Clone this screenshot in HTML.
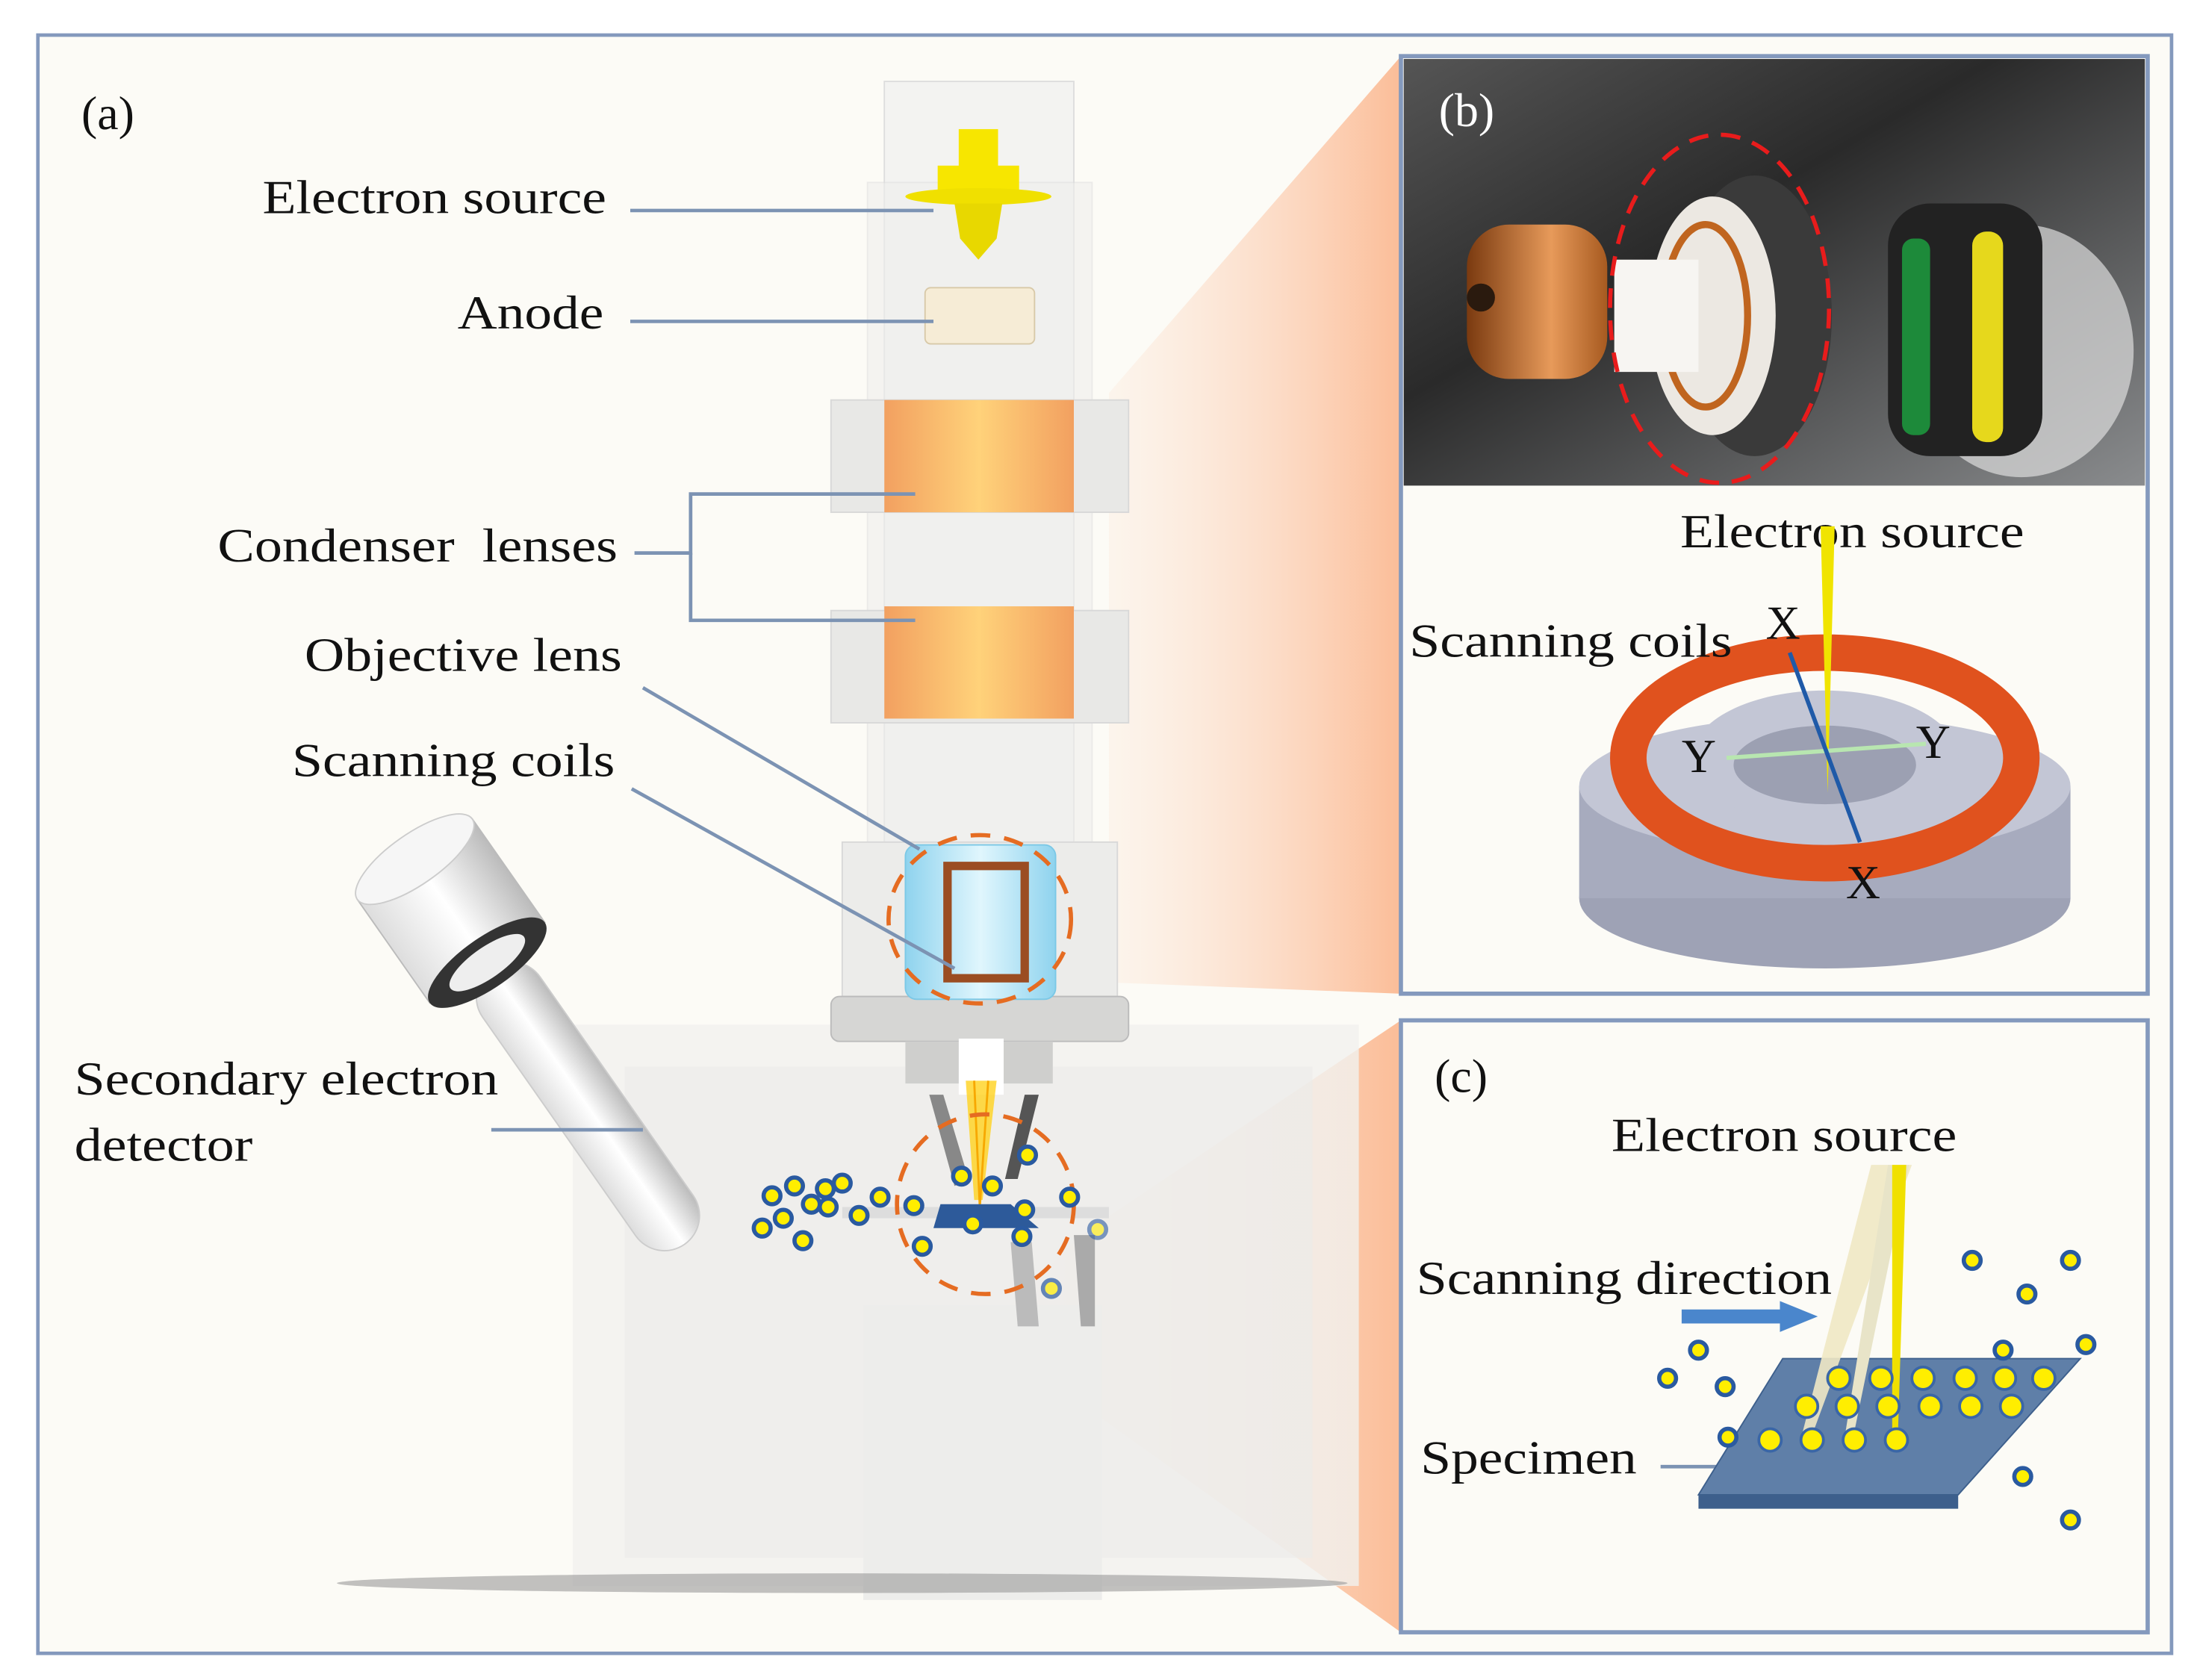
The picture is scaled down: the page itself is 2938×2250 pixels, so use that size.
<!DOCTYPE html>
<html><head><meta charset="utf-8"><style>
html,body{margin:0;padding:0;background:#fff}
svg{display:block}
text{font-family:"Liberation Serif",serif;fill:#111}
</style></head><body>
<svg width="2938" height="2250" viewBox="0 0 1563 1197" preserveAspectRatio="none" xmlns="http://www.w3.org/2000/svg">
<defs>
<linearGradient id="wedge" x1="0" x2="1" y1="0" y2="0">
<stop offset="0" stop-color="#fde6d6" stop-opacity="0.3"/><stop offset="1" stop-color="#fbbd98"/></linearGradient>
<linearGradient id="orange" x1="0" x2="1"><stop offset="0" stop-color="#f2a060"/><stop offset=".5" stop-color="#ffd27a"/><stop offset="1" stop-color="#f2a060"/></linearGradient>
<linearGradient id="photo" x1="0" x2="1" y1="0" y2="1"><stop offset="0" stop-color="#555"/><stop offset=".4" stop-color="#2a2a2a"/><stop offset="1" stop-color="#8a8c8e"/></linearGradient>
<linearGradient id="copper" x1="0" x2="1"><stop offset="0" stop-color="#7a3a10"/><stop offset=".6" stop-color="#e79a5a"/><stop offset="1" stop-color="#a75a20"/></linearGradient>
<linearGradient id="tube" x1="0" x2="1"><stop offset="0" stop-color="#ddd"/><stop offset=".5" stop-color="#fff"/><stop offset="1" stop-color="#bbb"/></linearGradient>
<linearGradient id="blue" x1="0" x2="1"><stop offset="0" stop-color="#8fd3ee"/><stop offset=".5" stop-color="#e0f6fd"/><stop offset="1" stop-color="#8fd3ee"/></linearGradient>
</defs>
<rect width="1563" height="1197" fill="#fff"/>
<rect x="27" y="25" width="1520" height="1153" fill="#fcfbf6" stroke="#8499bd" stroke-width="2.5"/>
<polygon points="790,280 998,40 998,708 790,700" fill="url(#wedge)"/>
<polygon points="770,880 998,727 998,1163 700,950" fill="url(#wedge)"/>
<rect x="408" y="730" width="560" height="400" fill="#f1f1ef" opacity=".8"/>
<rect x="445" y="760" width="490" height="350" fill="#ebebe9" opacity=".6"/>
<rect x="615" y="930" width="170" height="210" fill="#ededeb"/>
<ellipse cx="600" cy="1128" rx="360" ry="7" fill="#999" opacity=".6"/>
<rect x="630" y="58" width="135" height="560" fill="#f3f3f1" stroke="#ddd"/>
<rect x="618" y="130" width="160" height="480" fill="#efefed" opacity=".6" stroke="#e0e0e0"/>
<rect x="592" y="285" width="212" height="80" fill="#e8e8e6" stroke="#d8d8d8"/>
<rect x="592" y="435" width="212" height="80" fill="#e8e8e6" stroke="#d8d8d8"/>
<rect x="600" y="600" width="196" height="110" fill="#ececea" stroke="#d8d8d8"/>
<rect x="592" y="710" width="212" height="32" rx="6" fill="#d6d6d4" stroke="#bbb"/>
<rect x="645" y="742" width="105" height="30" fill="#cfcfcd"/>
<rect x="683" y="740" width="32" height="40" fill="#fff"/>
<rect x="683" y="92" width="28" height="30" fill="#f7e600"/>
<rect x="668" y="118" width="58" height="20" fill="#f7e600"/>
<ellipse cx="697" cy="140" rx="52" ry="6" fill="#f0e000"/>
<polygon points="680,145 714,145 710,170 697,185 684,170" fill="#e8d800"/>
<rect x="659" y="205" width="78" height="40" rx="4" fill="#f6ecd6" stroke="#d8c9a8"/>
<rect x="630" y="285" width="135" height="80" fill="url(#orange)"/>
<rect x="630" y="432" width="135" height="80" fill="url(#orange)"/>
<rect x="645" y="602" width="107" height="110" rx="8" fill="url(#blue)" stroke="#7bc8e6"/>
<rect x="675" y="617" width="55" height="80" fill="none" stroke="#9b4d22" stroke-width="6"/>
<ellipse cx="698" cy="655" rx="65" ry="60" fill="none" stroke="#e56c22" stroke-width="3" stroke-dasharray="14,10"/>
<polygon points="662,780 672,780 690,840 680,845" fill="#888"/>
<polygon points="730,780 740,780 725,840 716,840" fill="#555"/>
<polygon points="688,770 710,770 700,855 694,855" fill="#ffd21e" opacity=".8"/>
<line x1="694" y1="770" x2="698" y2="860" stroke="#f7a800" stroke-width="1.5"/>
<line x1="704" y1="770" x2="698" y2="860" stroke="#f7a800" stroke-width="1.5"/>
<rect x="600" y="860" width="190" height="8" fill="#ddd"/>
<polygon points="670,858 720,858 740,875 665,875" fill="#2d5a9a"/>
<polygon points="720,885 735,885 740,945 725,945" fill="#bbb"/>
<polygon points="765,880 780,880 780,945 770,945" fill="#aaa"/>
<ellipse cx="702" cy="858" rx="63" ry="64" fill="none" stroke="#e56c22" stroke-width="3" stroke-dasharray="14,10"/>
<g transform="translate(350,690) rotate(-35)">
<rect x="-25" y="0" width="50" height="240" rx="25" fill="url(#tube)" stroke="#ccc"/>
<rect x="-50" y="-95" width="100" height="90" fill="url(#tube)" stroke="#bbb"/>
<ellipse cx="0" cy="-5" rx="50" ry="18" fill="#333"/>
<ellipse cx="0" cy="-5" rx="32" ry="11" fill="#eee"/>
<ellipse cx="0" cy="-95" rx="50" ry="18" fill="#f6f6f6" stroke="#ccc"/>
</g>
<g fill="#ffee00" stroke="#2a5aa0" stroke-width="3">
<circle cx="550" cy="852" r="6"/><circle cx="566" cy="845" r="6"/><circle cx="588" cy="847" r="6"/><circle cx="600" cy="843" r="6"/>
<circle cx="558" cy="868" r="6"/><circle cx="578" cy="858" r="6"/><circle cx="590" cy="860" r="6"/><circle cx="543" cy="875" r="6"/>
<circle cx="572" cy="884" r="6"/><circle cx="612" cy="866" r="6"/><circle cx="627" cy="853" r="6"/><circle cx="651" cy="859" r="6"/>
<circle cx="685" cy="838" r="6"/><circle cx="707" cy="845" r="6"/><circle cx="732" cy="823" r="6"/><circle cx="693" cy="872" r="6"/>
<circle cx="730" cy="862" r="6"/><circle cx="762" cy="853" r="6"/><circle cx="728" cy="881" r="6"/><circle cx="657" cy="888" r="6"/>
<circle cx="782" cy="876" r="6" opacity=".6"/><circle cx="749" cy="918" r="6" opacity=".7"/>
</g>
<g stroke="#7c93b3" stroke-width="2.5" fill="none">
<line x1="449" y1="150" x2="665" y2="150"/>
<line x1="449" y1="229" x2="665" y2="229"/>
<polyline points="452,394 492,394 492,352 652,352"/>
<polyline points="492,394 492,442 652,442"/>
<line x1="458" y1="490" x2="655" y2="605"/>
<line x1="450" y1="562" x2="680" y2="690"/>
<line x1="350" y1="805" x2="458" y2="805"/>
</g>
<text x="58" y="92" font-size="34">(a)</text>
<text x="187" y="152" font-size="34" textLength="245" lengthAdjust="spacingAndGlyphs">Electron source</text>
<text x="326" y="234" font-size="34" textLength="104" lengthAdjust="spacingAndGlyphs">Anode</text>
<text x="155" y="400" font-size="34" xml:space="preserve" textLength="285" lengthAdjust="spacingAndGlyphs">Condenser  lenses</text>
<text x="217" y="478" font-size="34" textLength="226" lengthAdjust="spacingAndGlyphs">Objective lens</text>
<text x="208" y="553" font-size="34" textLength="230" lengthAdjust="spacingAndGlyphs">Scanning coils</text>
<text x="53" y="780" font-size="34" textLength="302" lengthAdjust="spacingAndGlyphs">Secondary electron</text>
<text x="53" y="827" font-size="34" textLength="127" lengthAdjust="spacingAndGlyphs">detector</text>
<rect x="998" y="40" width="532" height="668" fill="#fcfbf6" stroke="#8499bd" stroke-width="3"/>
<rect x="1000" y="42" width="528" height="304" fill="url(#photo)"/>
<ellipse cx="1440" cy="250" rx="80" ry="90" fill="#ddd" opacity=".7"/>
<rect x="1345" y="145" width="110" height="180" rx="30" fill="#222"/>
<rect x="1405" y="165" width="22" height="150" rx="10" fill="#e6d81c"/>
<rect x="1355" y="170" width="20" height="140" rx="8" fill="#1d8a3a"/>
<ellipse cx="1250" cy="225" rx="55" ry="100" fill="#3a3a3a"/>
<ellipse cx="1220" cy="225" rx="45" ry="85" fill="#ece8e2"/>
<ellipse cx="1215" cy="225" rx="30" ry="65" fill="none" stroke="#c0651f" stroke-width="5"/>
<rect x="1150" y="185" width="60" height="80" fill="#f7f5f2"/>
<rect x="1045" y="160" width="100" height="110" rx="30" fill="url(#copper)"/>
<ellipse cx="1055" cy="212" rx="10" ry="10" fill="#2a1a0e"/>
<ellipse cx="1225" cy="220" rx="78" ry="124" fill="none" stroke="#e81c1c" stroke-width="3" stroke-dasharray="14,9"/>
<text x="1025" y="90" font-size="34" style="fill:#fff">(b)</text>
<ellipse cx="1300" cy="640" rx="175" ry="50" fill="#9ea2b5"/>
<rect x="1125" y="560" width="350" height="80" fill="#a7abbe"/>
<ellipse cx="1300" cy="560" rx="175" ry="50" fill="#c3c6d5"/>
<ellipse cx="1300" cy="540" rx="140" ry="75" fill="none" stroke="#e0521e" stroke-width="26"/>
<ellipse cx="1300" cy="540" rx="95" ry="48" fill="#c3c6d5"/>
<ellipse cx="1300" cy="545" rx="65" ry="28" fill="#9ca0b2"/>
<text x="1197" y="390" font-size="34" textLength="245" lengthAdjust="spacingAndGlyphs">Electron source</text>
<text x="1004" y="468" font-size="34" textLength="230" lengthAdjust="spacingAndGlyphs">Scanning coils</text>
<polygon points="1297,375 1307,375 1302,565" fill="#f0e400"/>
<line x1="1230" y1="540" x2="1372" y2="530" stroke="#b8e6b0" stroke-width="3"/>
<line x1="1275" y1="465" x2="1325" y2="600" stroke="#1f5aa8" stroke-width="3"/>
<text x="1258" y="455" font-size="34">X</text>
<text x="1198" y="550" font-size="34">Y</text>
<text x="1365" y="540" font-size="34">Y</text>
<text x="1315" y="640" font-size="34">X</text>
<rect x="998" y="727" width="532" height="436" fill="#fcfbf6" stroke="#8499bd" stroke-width="3"/>
<text x="1022" y="778" font-size="34">(c)</text>
<text x="1148" y="820" font-size="34" textLength="246" lengthAdjust="spacingAndGlyphs">Electron source</text>
<text x="1009" y="922" font-size="34" textLength="296" lengthAdjust="spacingAndGlyphs">Scanning direction</text>
<text x="1012" y="1050" font-size="34" textLength="154" lengthAdjust="spacingAndGlyphs">Specimen</text>
<polygon points="1198,933 1268,933 1268,927 1295,938 1268,949 1268,943 1198,943" fill="#4a86cc"/>
<line x1="1183" y1="1045" x2="1250" y2="1045" stroke="#7c93b3" stroke-width="2.5"/>
<polygon points="1270,968 1482,968 1395,1065 1210,1065" fill="#5f7fa8" stroke="#3d5f8c"/>
<polygon points="1210,1065 1395,1065 1395,1075 1210,1075" fill="#3d5f8c"/>
<polygon points="1333,830 1362,830 1290,1025 1283,1025" fill="#efe8c4" opacity=".9"/>
<polygon points="1345,830 1360,830 1320,1025 1314,1025" fill="#e8e4c8"/>
<polygon points="1348,830 1358,830 1352,1025 1348,1025" fill="#f0e000"/>
<g fill="#ffee00" stroke="#2a5aa0" stroke-width="3">
<circle cx="1405" cy="898" r="6"/><circle cx="1475" cy="898" r="6"/><circle cx="1444" cy="922" r="6"/><circle cx="1210" cy="962" r="6"/>
<circle cx="1188" cy="982" r="6"/><circle cx="1229" cy="988" r="6"/><circle cx="1427" cy="962" r="6"/><circle cx="1486" cy="958" r="6"/>
<circle cx="1231" cy="1024" r="6"/><circle cx="1441" cy="1052" r="6"/><circle cx="1475" cy="1083" r="6"/>
</g>
<g fill="#ffee00" stroke="#3a66a6" stroke-width="2">
<circle cx="1310" cy="982" r="8"/><circle cx="1340" cy="982" r="8"/><circle cx="1370" cy="982" r="8"/><circle cx="1400" cy="982" r="8"/><circle cx="1428" cy="982" r="8"/><circle cx="1456" cy="982" r="8"/>
<circle cx="1287" cy="1002" r="8"/><circle cx="1316" cy="1002" r="8"/><circle cx="1345" cy="1002" r="8"/><circle cx="1375" cy="1002" r="8"/><circle cx="1404" cy="1002" r="8"/><circle cx="1433" cy="1002" r="8"/>
<circle cx="1261" cy="1026" r="8"/><circle cx="1291" cy="1026" r="8"/><circle cx="1321" cy="1026" r="8"/><circle cx="1351" cy="1026" r="8"/>
</g>
</svg>
</body></html>
